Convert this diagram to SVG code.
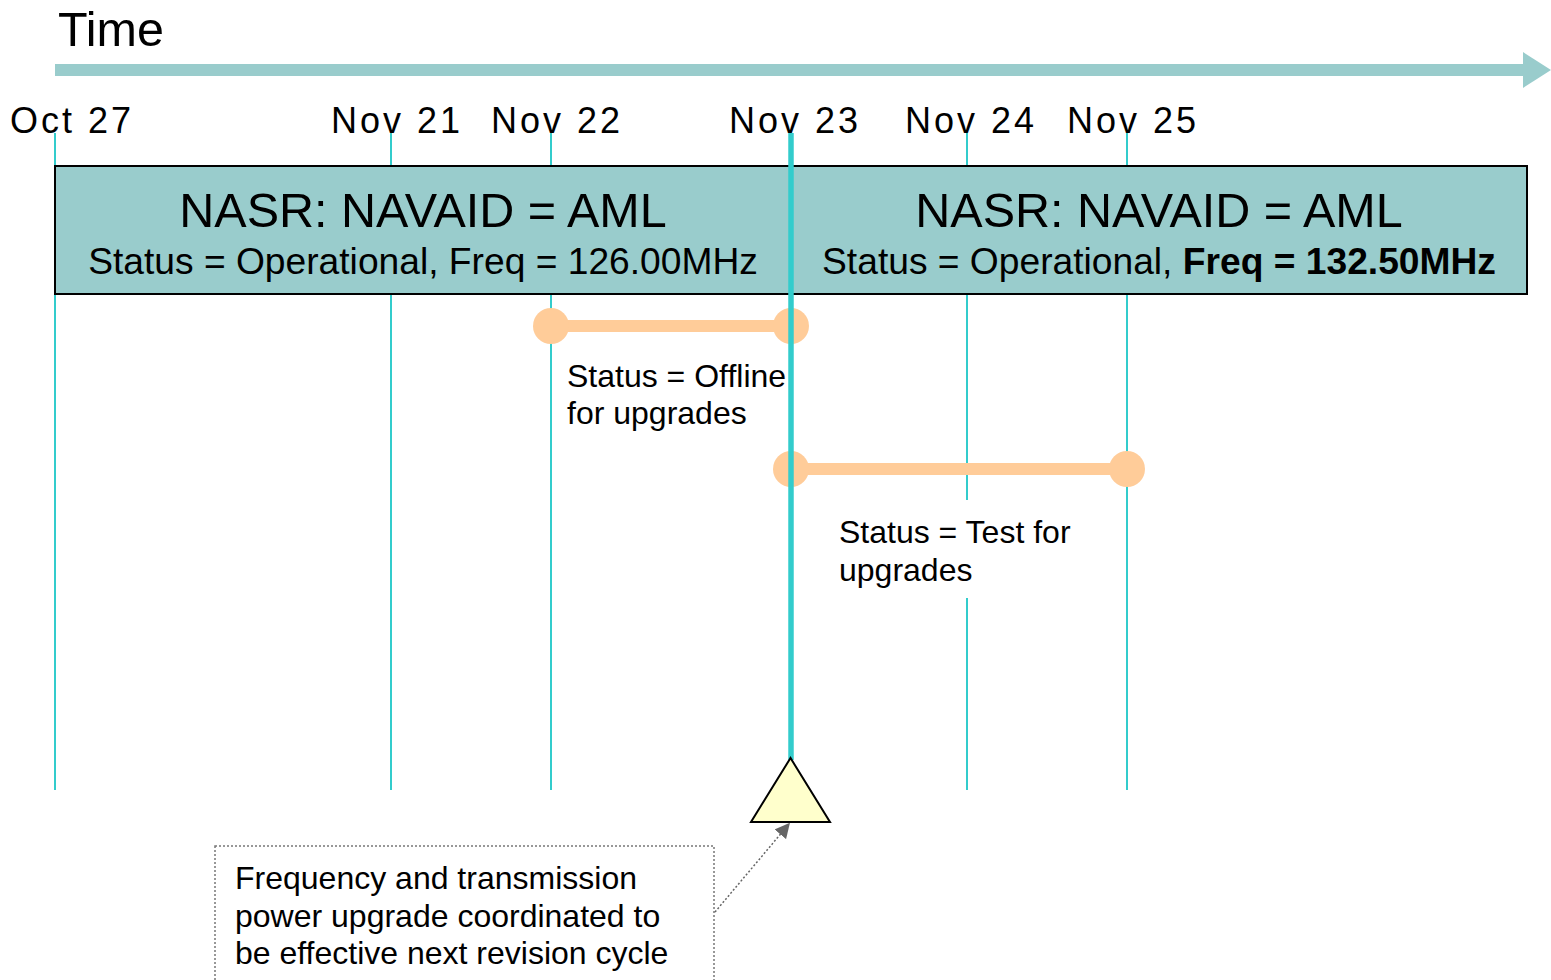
<svg xmlns="http://www.w3.org/2000/svg" width="1551" height="980" viewBox="0 0 1551 980">
<defs>
<style>
text{font-family:"Liberation Sans",Arial,sans-serif;fill:#000}
.date{font-size:36px;letter-spacing:3px}
.tick{stroke:#33CCCC;stroke-width:2;fill:none}
.title{font-size:48.5px;text-anchor:middle}
.sub{font-size:37.2px;text-anchor:middle}
.lbl{font-size:32px}
.bar{stroke:#FFCC99;stroke-width:12;fill:none}
.dot{fill:#FFCC99}
</style>
<marker id="ah" viewBox="0 0 10 10" refX="9" refY="5" markerWidth="10" markerHeight="10" markerUnits="strokeWidth" orient="auto">
<path d="M0,0 L10,5 L0,10 z" fill="#666666"/>
</marker>
</defs>
<rect width="1551" height="980" fill="#ffffff"/>

<g id="timeaxis">
<text x="58" y="46" style="font-size:48.5px">Time</text>
<rect x="55" y="64" width="1470" height="12" fill="#99CCCC"/>
<polygon points="1523,52 1551,70 1523,88" fill="#99CCCC"/>
</g>

<g id="dates">
<text class="date" x="10" y="133">Oct 27</text>
<text class="date" x="331" y="133">Nov 21</text>
<text class="date" x="491" y="133">Nov 22</text>
<text class="date" x="729" y="133">Nov 23</text>
<text class="date" x="905" y="133">Nov 24</text>
<text class="date" x="1067" y="133">Nov 25</text>
</g>

<g id="connectors">
<line class="tick" x1="55" y1="133" x2="55" y2="790"/>
<line class="tick" x1="391" y1="133" x2="391" y2="790"/>
<line class="tick" x1="551" y1="133" x2="551" y2="790"/>
<line class="tick" x1="967" y1="133" x2="967" y2="500"/>
<line class="tick" x1="967" y1="598" x2="967" y2="790"/>
<line class="tick" x1="1127" y1="133" x2="1127" y2="790"/>
</g>

<g id="nasr">
<rect x="55" y="166" width="1472" height="128" fill="#99CCCC" stroke="#000" stroke-width="2"/>
<text class="title" x="423" y="227">NASR: NAVAID = AML</text>
<text class="sub" x="423" y="274">Status = Operational, Freq = 126.00MHz</text>
<text class="title" x="1159" y="227">NASR: NAVAID = AML</text>
<text class="sub" x="1159" y="274">Status = Operational, <tspan font-weight="bold">Freq = 132.50MHz</tspan></text>
</g>

<g id="offline">
<line class="bar" x1="551" y1="326" x2="791" y2="326"/>
<ellipse class="dot" cx="551" cy="326" rx="18" ry="18"/>
<ellipse class="dot" cx="791" cy="326" rx="18" ry="18"/>
<text class="lbl" x="567" y="387">Status = Offline</text>
<text class="lbl" x="567" y="424">for upgrades</text>
</g>

<g id="test">
<line class="bar" x1="791" y1="469" x2="1127" y2="469"/>
<ellipse class="dot" cx="791" cy="469" rx="18" ry="18"/>
<ellipse class="dot" cx="1127" cy="469" rx="18" ry="18"/>
<text class="lbl" x="839" y="543">Status = Test for</text>
<text class="lbl" x="839" y="581">upgrades</text>
</g>

<g id="cutover">
<line x1="791" y1="133" x2="791" y2="760" stroke="#33CCCC" stroke-width="5.5"/>
<polygon points="790.5,758 751,822 830,822" fill="#FFFFCC" stroke="#000" stroke-width="2"/>
</g>

<g id="callout">
<rect x="215" y="846" width="499" height="150" fill="none" stroke="#777777" stroke-width="1.5" stroke-dasharray="2,2"/>
<text class="lbl" x="235" y="889">Frequency and transmission</text>
<text class="lbl" x="235" y="927">power upgrade coordinated to</text>
<text class="lbl" x="235" y="964">be effective next revision cycle</text>
</g>

<g id="callout-link">
<line x1="715" y1="912" x2="789" y2="824" stroke="#666666" stroke-width="1.5" stroke-dasharray="2,2" marker-end="url(#ah)"/>
</g>
</svg>
